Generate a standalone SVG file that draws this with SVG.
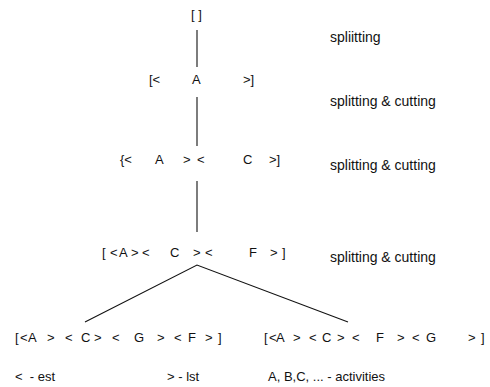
<svg xmlns="http://www.w3.org/2000/svg" width="490" height="387" viewBox="0 0 490 387">
<style>
text{font-family:"Liberation Sans",Arial,sans-serif;fill:#111;}
.s{font-size:13px;}
.l{font-size:14px;}
.c{stroke:#111;stroke-width:1.1;fill:none;}
</style>
<rect width="490" height="387" fill="#fff"/>
<g id="connectors">
<line class="c" x1="197" y1="30" x2="197" y2="67"/>
<line class="c" x1="197" y1="97" x2="197" y2="146"/>
<line class="c" x1="197" y1="181" x2="197" y2="232"/>
<polyline class="c" points="85,322 197,265 348,322"/>
</g>
<g id="n0"><text class="s" x="191" y="19">[ ]</text></g>
<g id="n1"><text class="s" y="84"><tspan x="149">[&lt;</tspan><tspan x="192">A</tspan><tspan x="243">&gt;]</tspan></text></g>
<g id="n2"><text class="s" y="164"><tspan x="120">{&lt;</tspan><tspan x="155">A</tspan><tspan x="183">&gt;</tspan><tspan x="197">&lt;</tspan><tspan x="243">C</tspan><tspan x="269">&gt;]</tspan></text></g>
<g id="n3"><text class="s" y="257"><tspan x="102">[</tspan><tspan x="110">&lt;</tspan><tspan x="119">A</tspan><tspan x="131">&gt;</tspan><tspan x="142">&lt;</tspan><tspan x="170">C</tspan><tspan x="193">&gt;</tspan><tspan x="205">&lt;</tspan><tspan x="249">F</tspan><tspan x="270">&gt;</tspan><tspan x="282">]</tspan></text></g>
<g id="n4"><text class="s" y="342"><tspan x="15">[</tspan><tspan x="20">&lt;</tspan><tspan x="28">A</tspan><tspan x="47">&gt;</tspan><tspan x="65">&lt;</tspan><tspan x="81">C</tspan><tspan x="94">&gt;</tspan><tspan x="112">&lt;</tspan><tspan x="134">G</tspan><tspan x="157">&gt;</tspan><tspan x="174">&lt;</tspan><tspan x="188">F</tspan><tspan x="205">&gt;</tspan><tspan x="218">]</tspan></text></g>
<g id="n5"><text class="s" y="342"><tspan x="264">[</tspan><tspan x="269">&lt;</tspan><tspan x="276">A</tspan><tspan x="293">&gt;</tspan><tspan x="309">&lt;</tspan><tspan x="322">C</tspan><tspan x="337">&gt;</tspan><tspan x="352">&lt;</tspan><tspan x="376">F</tspan><tspan x="397">&gt;</tspan><tspan x="412">&lt;</tspan><tspan x="426">G</tspan><tspan x="468">&gt;</tspan><tspan x="481">]</tspan></text></g>
<g id="labels">
<text class="l" x="330" y="42">spliitting</text>
<text class="l" x="330" y="106">splitting &amp; cutting</text>
<text class="l" x="330" y="170">splitting &amp; cutting</text>
<text class="l" x="330" y="262">splitting &amp; cutting</text>
</g>
<g id="legend">
<text class="s" x="15" y="381" xml:space="preserve">&lt;  - est</text>
<text class="s" x="167" y="381">&gt; - lst</text>
<text class="s" x="268" y="381">A, B,C, ... - activities</text>
</g>
</svg>
